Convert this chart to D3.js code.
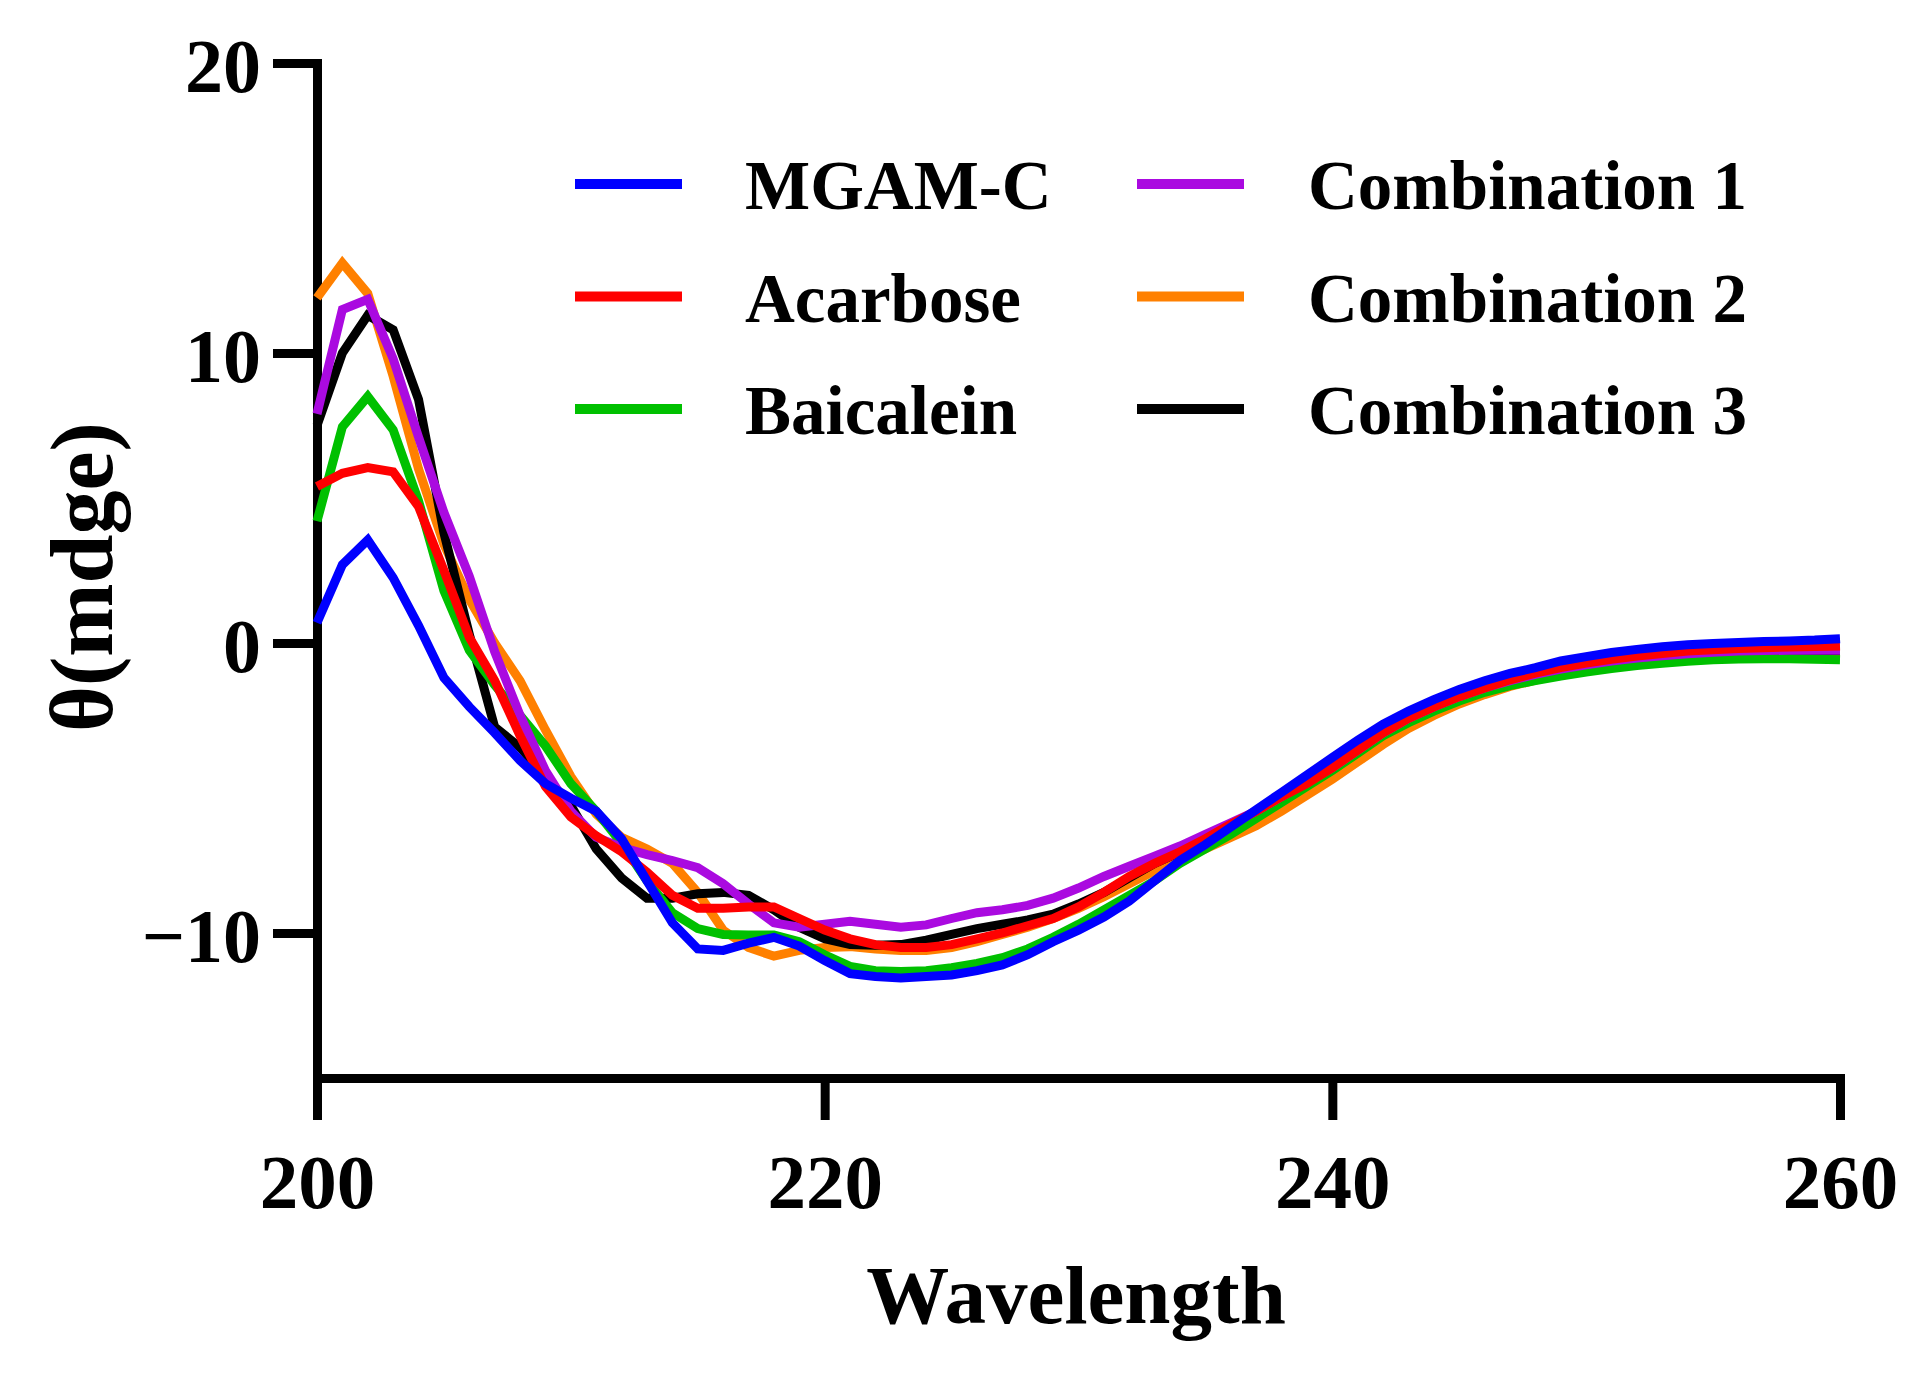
<!DOCTYPE html>
<html>
<head>
<meta charset="utf-8">
<script src="https://cdn.jsdelivr.net/npm/d3@7"></script>
<style>
  html, body { margin: 0; padding: 0; background: #fff; }
  svg text { font-family: "Liberation Serif", "Times New Roman", serif; font-weight: bold; fill: #000; }
</style>
</head>
<body>
<svg id="chart" width="1926" height="1383"></svg>
<script>
// wavelength grid (nm)
const wavelength = [200,201,202,203,204,205,206,207,208,209,
  210,211,212,213,214,215,216,217,218,219,
  220,221,222,223,224,225,226,227,228,229,
  230,231,232,233,234,235,236,237,238,239,
  240,241,242,243,244,245,246,247,248,249,
  250,251,252,253,254,255,256,257,258,259,260];

// θ (mdeg) values
const mgamC = [0.7,2.7,3.55,2.25,0.6,-1.2,-2.2,-3.1,-4.05,-4.85,
  -5.35,-5.8,-6.75,-8.2,-9.65,-10.55,-10.6,-10.35,-10.15,-10.45,
  -10.95,-11.4,-11.5,-11.55,-11.5,-11.45,-11.3,-11.1,-10.75,-10.3,
  -9.9,-9.45,-8.9,-8.2,-7.5,-6.95,-6.35,-5.75,-5.15,-4.55,
  -3.95,-3.35,-2.8,-2.35,-1.95,-1.6,-1.3,-1.05,-0.85,-0.62,
  -0.47,-0.33,-0.22,-0.13,-0.06,-0.02,0.02,0.05,0.07,0.1,0.15];

const acarbose = [5.4,5.85,6.05,5.9,4.7,2.5,0.2,-1.3,-3.2,-4.95,
  -6.0,-6.65,-7.2,-7.9,-8.7,-9.15,-9.15,-9.1,-9.1,-9.5,
  -9.9,-10.2,-10.4,-10.5,-10.5,-10.4,-10.2,-10.0,-9.75,-9.5,
  -9.1,-8.6,-8.05,-7.6,-7.2,-6.75,-6.25,-5.8,-5.3,-4.85,
  -4.3,-3.7,-3.1,-2.6,-2.2,-1.85,-1.55,-1.27,-1.04,-0.85,
  -0.69,-0.56,-0.45,-0.36,-0.28,-0.23,-0.19,-0.16,-0.14,-0.12,-0.1];

const baicalein = [4.2,7.45,8.5,7.35,4.9,1.8,-0.25,-1.45,-2.5,-3.55,
  -4.85,-5.8,-6.9,-8.2,-9.3,-9.85,-10.05,-10.07,-10.07,-10.3,
  -10.75,-11.15,-11.3,-11.33,-11.3,-11.2,-11.05,-10.85,-10.55,-10.15,
  -9.7,-9.2,-8.7,-8.2,-7.6,-7.1,-6.6,-6.05,-5.5,-4.95,
  -4.4,-3.8,-3.2,-2.75,-2.35,-2.0,-1.7,-1.47,-1.3,-1.14,
  -1.0,-0.88,-0.78,-0.7,-0.63,-0.58,-0.55,-0.54,-0.54,-0.56,-0.58];

const combination1 = [7.9,11.5,11.85,9.8,7.1,4.5,2.3,-0.3,-2.5,-4.4,
  -5.8,-6.7,-7.05,-7.3,-7.5,-7.75,-8.3,-9.0,-9.65,-9.8,
  -9.7,-9.6,-9.7,-9.8,-9.72,-9.5,-9.3,-9.2,-9.05,-8.8,
  -8.45,-8.05,-7.7,-7.35,-7.0,-6.6,-6.2,-5.8,-5.3,-4.8,
  -4.3,-3.7,-3.1,-2.6,-2.2,-1.85,-1.55,-1.3,-1.08,-0.9,
  -0.75,-0.62,-0.52,-0.44,-0.37,-0.32,-0.28,-0.26,-0.25,-0.25,-0.25];

const combination2 = [11.9,13.1,12.05,9.2,6.0,3.4,1.5,0.0,-1.3,-3.0,
  -4.6,-5.9,-6.7,-7.1,-7.6,-8.6,-9.9,-10.5,-10.8,-10.6,
  -10.5,-10.47,-10.55,-10.6,-10.6,-10.5,-10.3,-10.05,-9.8,-9.5,
  -9.15,-8.75,-8.3,-7.85,-7.45,-7.1,-6.7,-6.3,-5.8,-5.25,
  -4.7,-4.1,-3.5,-2.95,-2.5,-2.1,-1.78,-1.5,-1.28,-1.09,
  -0.93,-0.8,-0.68,-0.58,-0.5,-0.43,-0.38,-0.35,-0.33,-0.32,-0.32];

const combination3 = [7.5,10.0,11.3,10.8,8.4,3.8,0.3,-2.9,-3.6,-4.6,
  -5.6,-7.1,-8.1,-8.8,-8.8,-8.65,-8.6,-8.7,-9.2,-9.8,
  -10.2,-10.4,-10.42,-10.4,-10.25,-10.05,-9.85,-9.7,-9.55,-9.35,
  -9.0,-8.6,-8.1,-7.6,-7.2,-6.8,-6.35,-5.9,-5.4,-4.9,
  -4.35,-3.75,-3.15,-2.65,-2.25,-1.9,-1.58,-1.31,-1.1,-0.92,
  -0.77,-0.64,-0.54,-0.46,-0.39,-0.34,-0.3,-0.28,-0.27,-0.27,-0.27];

const seriesNames = ["MGAM-C", "Acarbose", "Baicalein", "Combination 1", "Combination 2", "Combination 3"];
const seriesValues = [mgamC, acarbose, baicalein, combination1, combination2, combination3];
const seriesColors = ["#0000ff", "#ff0000", "#00c000", "#aa0ae0", "#ff8000", "#000000"];
const drawOrder = [4, 5, 2, 3, 1, 0]; // bottom to top

const xTicks = [200, 220, 240, 260];
const yTicks = [-10, 0, 10, 20];

const FONT = '"Liberation Serif", "Times New Roman", serif';

const svg = d3.select("#chart");

const x = d3.scaleLinear().domain([200, 260]).range([317, 1840]);
const y = d3.scaleLinear().domain([-15, 20]).range([1078, 63]);

// axes
const xAxis = svg.append("g")
  .attr("transform", `translate(0,${y(-15)})`)
  .call(d3.axisBottom(x).tickValues(xTicks).tickFormat(d3.format("d"))
    .tickSize(42).tickSizeOuter(0).tickPadding(33));

const yAxis = svg.append("g")
  .attr("transform", `translate(${x(200)},0)`)
  .call(d3.axisLeft(y).tickValues(yTicks).tickFormat(d3.format("d"))
    .tickSize(44).tickSizeOuter(0).tickPadding(12));

[xAxis, yAxis].forEach(g => {
  g.select(".domain").attr("stroke", "#000").attr("stroke-width", 9).attr("stroke-linecap", "square");
  g.selectAll(".tick line").attr("stroke", "#000").attr("stroke-width", 9);
  g.selectAll(".tick text")
    .attr("font-family", FONT).attr("font-weight", "bold").attr("fill", "#000");
});
xAxis.selectAll(".tick text").attr("font-size", 77);
yAxis.selectAll(".tick text").attr("font-size", 76).attr("dy", "0.37em");

// series lines
const line = d3.line()
  .x((d, i) => x(wavelength[i]))
  .y(d => y(d));

drawOrder.forEach(i => {
  svg.append("path")
    .datum(seriesValues[i])
    .attr("fill", "none")
    .attr("stroke", seriesColors[i])
    .attr("stroke-width", 9)
    .attr("stroke-linejoin", "miter")
    .attr("d", line);
});

// legend (two columns of three)
const legendCols = [{ lx: 575, tx: 745 }, { lx: 1137, tx: 1308 }];
const legendRows = [184, 296.5, 409];

seriesNames.forEach((name, i) => {
  const col = legendCols[Math.floor(i / 3)];
  const ry = legendRows[i % 3];
  svg.append("line")
    .attr("x1", col.lx).attr("x2", col.lx + 107)
    .attr("y1", ry).attr("y2", ry)
    .attr("stroke", seriesColors[i])
    .attr("stroke-width", 10);
  svg.append("text")
    .attr("x", col.tx).attr("y", ry + 25)
    .attr("font-size", 69)
    .text(name);
});

// axis titles
svg.append("text")
  .attr("x", 1076).attr("y", 1323)
  .attr("text-anchor", "middle")
  .attr("font-size", 83)
  .text("Wavelength");

svg.append("text")
  .attr("transform", "translate(112,577) rotate(-90)")
  .attr("text-anchor", "middle")
  .attr("font-size", 88)
  .text("θ(mdge)");
</script>
</body>
</html>
